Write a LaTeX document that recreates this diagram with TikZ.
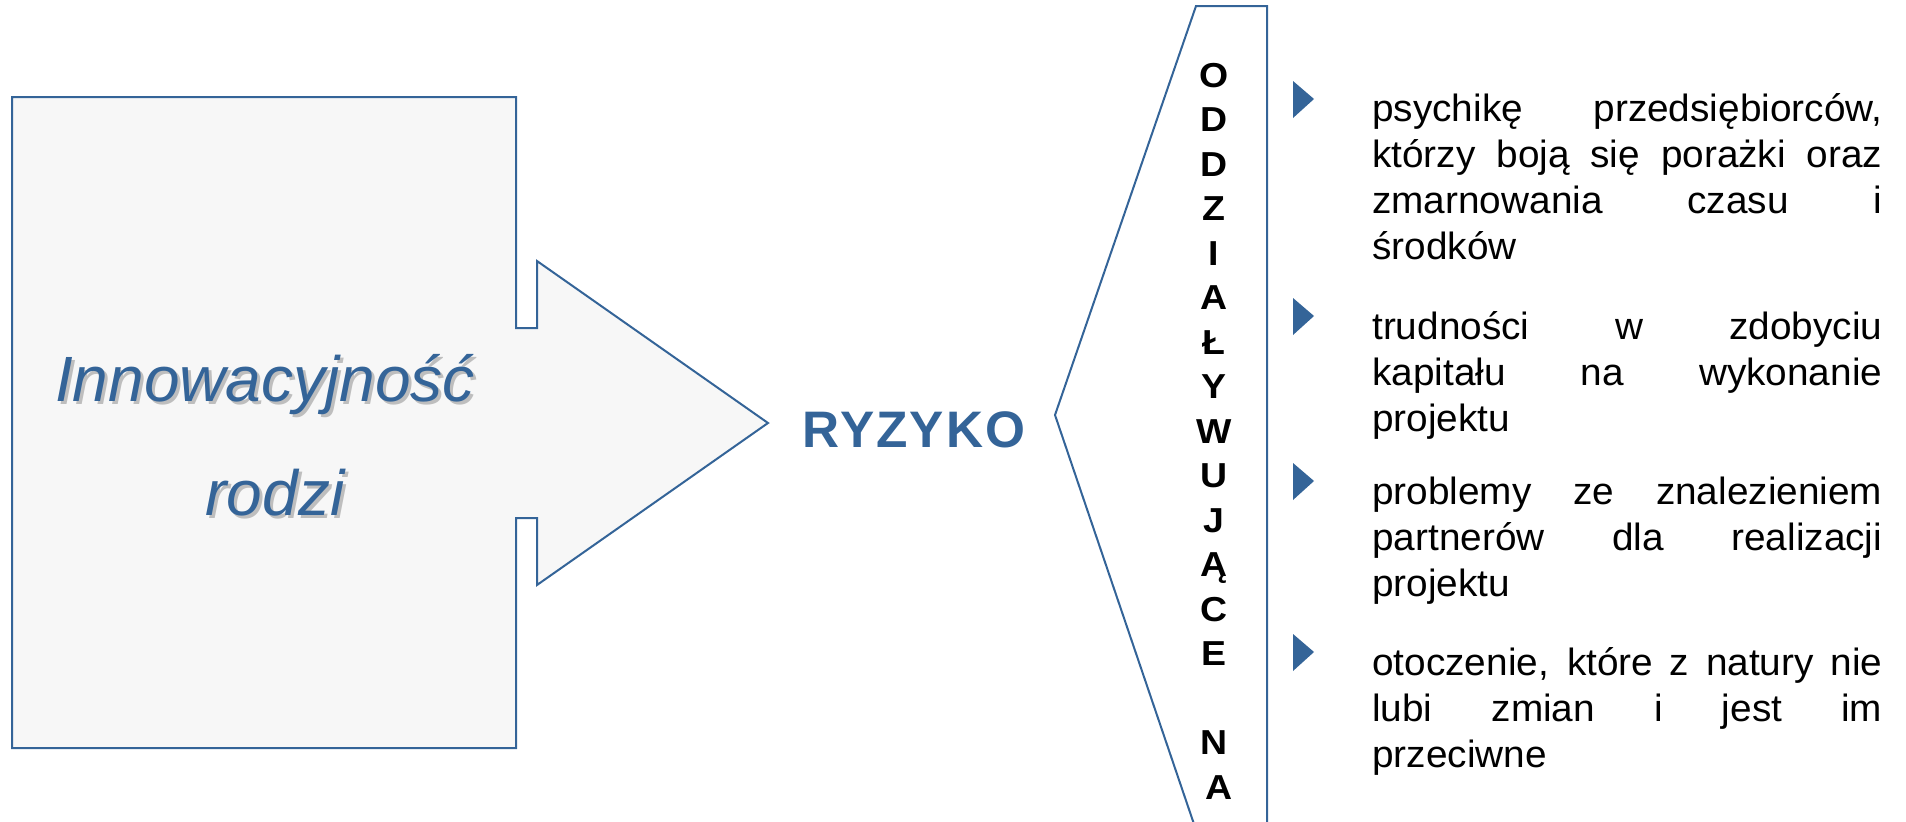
\documentclass[tikz,border=0pt]{standalone}
\usepackage{fontspec}
\setmainfont{Liberation Sans}
\newfontfamily\colfont[FakeStretch=1.02]{Liberation Sans}
\newfontfamily\vertfont[FakeStretch=1.08]{Liberation Sans}
\newfontfamily\ryzfont[LetterSpace=4]{Liberation Sans}
\definecolor{sablue}{RGB}{52,100,152}
\definecolor{boxfill}{RGB}{247,247,247}
\definecolor{shadowgray}{RGB}{190,190,190}
\newcommand\jline[1]{\makebox[\linewidth][s]{#1}\\}
\tikzset{
  outline/.style={draw=sablue, line width=1.5pt, line join=miter},
  bigtext/.style={anchor=base, inner sep=0, font=\fontsize{48pt}{58pt}\selectfont\itshape},
  coltext/.style={anchor=base west, inner sep=0, text=black},
  bullet/.style={fill=sablue, draw=none}
}
\newcommand\colsize{\colfont\fontsize{28.5pt}{34.5pt}\selectfont}
\begin{document}
\begin{tikzpicture}[x=0.75pt,y=-0.75pt]
\useasboundingbox (0,0) rectangle (1906,821);
\begin{scope}
\clip (0,0) rectangle (1906,821);
% big box with arrow
\draw[outline, fill=boxfill] (12,97) -- (516,97) -- (516,328) -- (537,328) -- (537,261)
  -- (768,423) -- (537,585) -- (537,518) -- (516,518) -- (516,748) -- (12,748) -- cycle;
% chevron bracket
\draw[outline] (1196,830) -- (1055,415) -- (1196,6) -- (1267,6) -- (1267,830);
\end{scope}
% Innowacyjnosc rodzi (with shadow)
\node[bigtext, text=shadowgray] (inn1s) at (268,404) {Innowacyjność};
\node[bigtext, text=sablue] (inn1) at (265,401) {Innowacyjność};
\node[bigtext, text=shadowgray] (inn2s) at (278,518) {rodzi};
\node[bigtext, text=sablue] (inn2) at (275,515) {rodzi};
% RYZYKO
\node[anchor=base, inner sep=0, text=sablue, font=\ryzfont\bfseries\fontsize{38.5pt}{45pt}\selectfont] (ryz) at (914,447) {RYZYKO};
% vertical letters
\node[anchor=base, inner sep=0] (vert) at (1214,87) {\parbox[t]{40pt}{\centering\vertfont\bfseries\fontsize{26pt}{33.375pt}\selectfont
O\\D\\D\\Z\\I\\A\\Ł\\Y\\W\\U\\J\\Ą\\C\\E\\\mbox{}\\N\\\hspace*{8pt}A}};
% bullets
\fill[bullet] (1293,81) -- (1314,99) -- (1293,118) -- cycle;
\fill[bullet] (1293,298) -- (1314,316) -- (1293,335) -- cycle;
\fill[bullet] (1293,463) -- (1314,481) -- (1293,500) -- cycle;
\fill[bullet] (1293,634) -- (1314,652) -- (1293,671) -- cycle;
% paragraphs
\node[coltext] (p1) at (1372,121) {\parbox[t]{382.5pt}{\colsize
\jline{psychikę przedsiębiorców,}
\jline{którzy boją się porażki oraz}
\jline{zmarnowania czasu i}
środków}};
\node[coltext] (p2) at (1372,339) {\parbox[t]{382.5pt}{\colsize
\jline{trudności w zdobyciu}
\jline{kapitału na wykonanie}
projektu}};
\node[coltext] (p3) at (1372,504) {\parbox[t]{382.5pt}{\colsize
\jline{problemy ze znalezieniem}
\jline{partnerów dla realizacji}
projektu}};
\node[coltext] (p4) at (1372,675) {\parbox[t]{382.5pt}{\colsize
\jline{otoczenie, które z natury nie}
\jline{lubi zmian i jest im}
przeciwne}};
\end{tikzpicture}
\end{document}
